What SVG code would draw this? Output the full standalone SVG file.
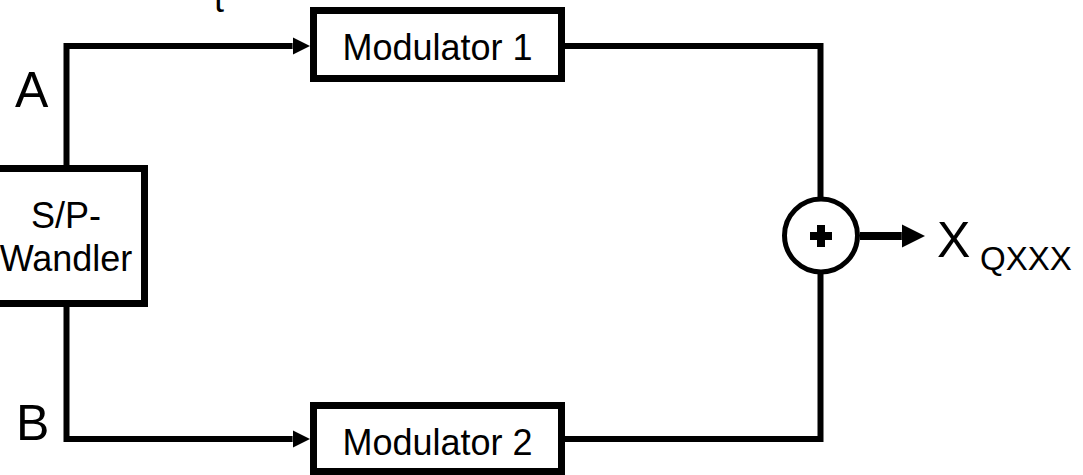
<svg xmlns="http://www.w3.org/2000/svg" width="1083" height="475" viewBox="0 0 1083 475">
<style>
.box{fill:#fff;stroke:#000;stroke-width:7}
.wire{fill:none;stroke:#000;stroke-width:6}
.lbl{font-family:"Liberation Sans",Arial,sans-serif;fill:#000}
</style>
<defs>
<marker id="arr" markerUnits="strokeWidth" viewBox="0 0 10 10" markerWidth="2.9" markerHeight="2.9" refX="0" refY="5" orient="auto">
<path d="M0,0 L10,5 L0,10 z" fill="#000"/>
</marker>
</defs>
<rect width="1083" height="475" fill="#fff"/>
<text class="lbl" x="214" y="12" font-size="36">t</text>
<g id="connectors">
<path class="wire" d="M66.5,165 V46 H292.6" marker-end="url(#arr)"/>
<path class="wire" d="M66.5,307 V439 H292.6" marker-end="url(#arr)"/>
<path class="wire" d="M565,46 H820.5 V197"/>
<path class="wire" d="M552,439 H820.5 V274"/>
<path class="wire" style="stroke-width:8" d="M860,236 H901.8" marker-end="url(#arr)"/>
</g>
<g id="sp">
<rect class="box" x="-12.5" y="168.5" width="157" height="135"/>
<text class="lbl" x="66" y="228" font-size="36" text-anchor="middle">S/P-</text>
<text class="lbl" x="66" y="271" font-size="36" text-anchor="middle">Wandler</text>
</g>
<g id="mod1">
<rect class="box" x="313.5" y="10.5" width="248" height="68"/>
<text class="lbl" x="437.5" y="60" font-size="36" text-anchor="middle">Modulator 1</text>
</g>
<g id="mod2">
<rect class="box" x="313.5" y="405.5" width="248" height="66"/>
<text class="lbl" x="437.5" y="455" font-size="36" text-anchor="middle">Modulator 2</text>
</g>
<g id="sum">
<circle cx="821" cy="235.5" r="36.5" fill="#fff" stroke="#000" stroke-width="5"/>
<rect x="810" y="232" width="22" height="8" fill="#000"/>
<rect x="817" y="225" width="8" height="22" fill="#000"/>
</g>
<g id="labels">
<text class="lbl" x="15" y="107" font-size="50">A</text>
<text class="lbl" x="16" y="440" font-size="50">B</text>
<text class="lbl" x="937" y="257" font-size="50">X<tspan x="980" y="270" font-size="33">QXXX</tspan></text>
</g>
</svg>
